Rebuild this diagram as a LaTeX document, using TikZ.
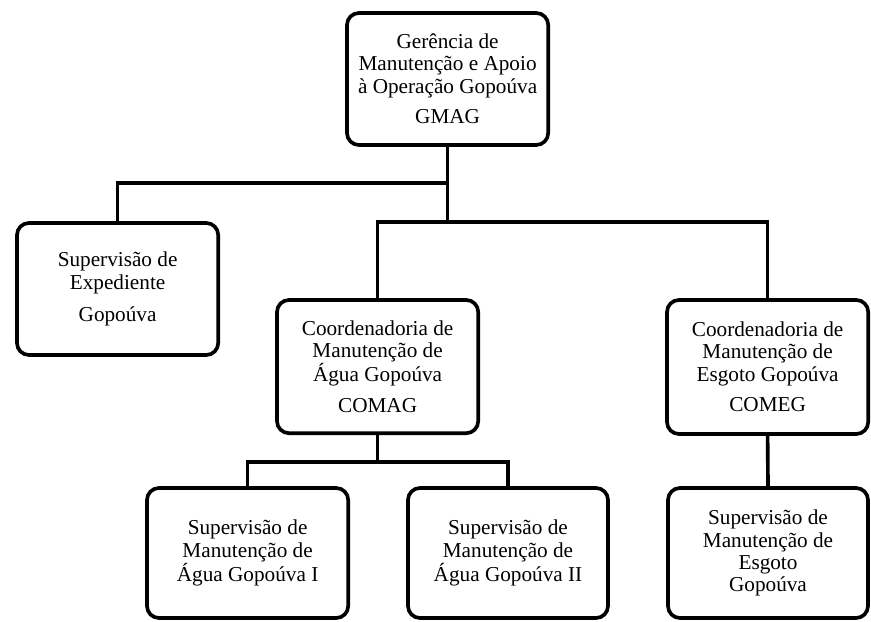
\documentclass[tikz,border=0pt]{standalone}
\usepackage{fontspec}
\setmainfont{Liberation Serif}

\tikzset{
  unit/.style={draw, line width=2.6pt, rounded corners=0.3cm, align=center,
    minimum width=5.03cm, minimum height=3.3cm, inner sep=2pt,
    font=\fontsize{15.1}{15.8}\selectfont},
  link/.style={line width=2.6pt}
}

\begin{document}
\begin{tikzpicture}
\useasboundingbox (0, 0) rectangle (21.775, 15.525);

\node[unit] (gmag) at (11.19, 13.55) {Gerência de\\Manutenção e Apoio\\à Operação Gopoúva\\[6pt]GMAG};

\node[unit] (exped) at (2.94, 8.3) {Supervisão de\\Expediente\\[7pt]Gopoúva};

\node[unit, minimum height=3.33cm] (comag) at (9.44, 6.36) {Coordenadoria de\\Manutenção de\\Água Gopoúva\\[6pt]COMAG};
\node[unit, minimum height=3.35cm] (comeg) at (19.19, 6.35) {Coordenadoria de\\Manutenção de\\Esgoto Gopoúva\\[6pt]COMEG};

\node[unit, minimum height=3.25cm] (agua1) at (6.19, 1.7) {Supervisão de\\Manutenção de\\Água Gopoúva I};
\node[unit, minimum height=3.25cm, minimum width=5cm] (agua2) at (12.7, 1.7) {Supervisão de\\Manutenção de\\Água Gopoúva II};
\node[unit, minimum height=3.25cm, minimum width=5cm] (esgoto) at (19.2, 1.7) {Supervisão de\\Manutenção de\\Esgoto\\Gopoúva};

% ligacoes
\coordinate (left) at (11.19, 10.95);
\coordinate (bus) at (11.19, 9.975);
\coordinate (sub) at (9.44, 3.975);

\draw[link] (gmag.south) -- (bus);
\draw[link] (exped.north) |- (left);
\draw[link] (comag.north) |- (bus) -| (comeg.north);

\draw[link] (comag.south) -- (sub);
\draw[link] (agua1.north) |- (sub) -| (agua2.north);

\draw[link] (comeg.south) -- (esgoto.north);

\end{tikzpicture}
\end{document}
